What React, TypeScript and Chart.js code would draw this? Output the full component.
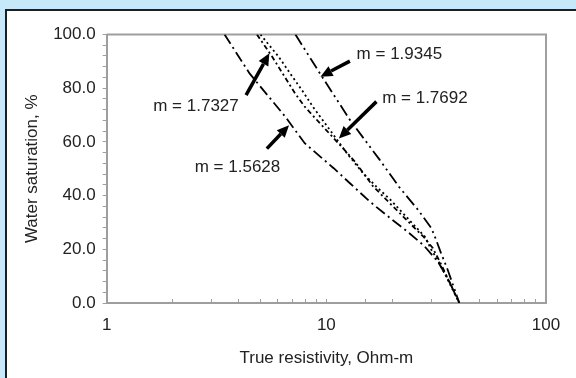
import { useEffect, useRef } from "react";
import { Chart, registerables } from "chart.js";
Chart.register(...registerables);

const FONT = "'Liberation Sans', Arial, sans-serif";
const TEXT = "#222222";
const AXIS = "#9e9e9e";

const seriesLabels = ["m = 1.5628", "m = 1.7327", "m = 1.7692", "m = 1.9345"];

// Resistivity (Ohm-m) and water saturation (%)
const rtA = [3.44, 4.47, 6.5, 7.97, 10.8, 12.8, 15.8, 20.0, 22.9, 27.8, 32.2, 35.7, 40.3];
const swA = [100, 85.5, 69.4, 59.5, 50.2, 44.6, 37.7, 30.9, 27.2, 21.4, 15.4, 9.2, 0];

const rtB = [4.83, 5.67, 7.2, 7.97, 12.0, 13.5, 16.3, 19.0, 23.8, 27.8, 30.5, 33.5, 36.0, 40.3];
const swB = [100, 91.7, 78.1, 73.1, 57.3, 52.6, 43.5, 38.0, 30.0, 24.5, 20.5, 14.0, 8.5, 0];

const rtC = [5.01, 6.07, 6.84, 7.83, 8.68, 12.4, 14.7, 16.9, 19.6, 25.0, 28.1, 30.1, 32.2, 35.5, 40.3];
const swC = [100, 91.7, 85.5, 78.7, 73.1, 55.8, 48.3, 43.3, 38.4, 29.1, 24.7, 19.7, 16.0, 9.0, 0];

const rtD = [7.23, 9.45, 12.8, 17.5, 21.4, 26.2, 30.1, 31.6, 33.3, 35.7, 40.3];
const swD = [100, 84.9, 68.2, 53.3, 43.3, 34.6, 27.8, 23.5, 18.5, 12.3, 0];

const dashes = [
  [11, 4, 2, 4],
  [5, 3, 2, 3],
  [2, 3],
  [12, 4, 2, 4, 2, 4],
];

const xTickLabels = ["1", "10", "100"];

// Annotation labels (data coordinates: resistivity, saturation)
const labelRt = [3.94, 2.55, 28.1, 21.5];
const labelSw = [50.4, 73.1, 76.1, 92.6];
// Arrow tails and heads (data coordinates)
const arrowTailRt = [5.36, 4.31, 16.9, 12.8];
const arrowTailSw = [57.5, 77.4, 75.0, 90.1];
const arrowHeadRt = [6.76, 5.5, 11.4, 9.4];
const arrowHeadSw = [66.2, 93.0, 61.3, 84.3];

function drawArrow(ctx: CanvasRenderingContext2D, x1: number, y1: number, x2: number, y2: number) {
  const ang = Math.atan2(y2 - y1, x2 - x1);
  const hl = 12;
  const hw = 5.5;
  const bx = x2 - hl * Math.cos(ang);
  const by = y2 - hl * Math.sin(ang);
  ctx.lineWidth = 3.5;
  ctx.lineCap = "butt";
  ctx.beginPath();
  ctx.moveTo(x1, y1);
  ctx.lineTo(bx, by);
  ctx.stroke();
  ctx.beginPath();
  ctx.moveTo(x2, y2);
  ctx.lineTo(bx + hw * Math.sin(ang), by - hw * Math.cos(ang));
  ctx.lineTo(bx - hw * Math.sin(ang), by + hw * Math.cos(ang));
  ctx.closePath();
  ctx.fill();
}

const framePlugin = {
  id: "frame",
  beforeDatasetsDraw(chart: any) {
    const { ctx, chartArea } = chart;
    ctx.save();
    ctx.strokeStyle = AXIS;
    ctx.lineWidth = 2;
    ctx.beginPath();
    ctx.moveTo(chartArea.left, chartArea.top);
    ctx.lineTo(chartArea.right, chartArea.top);
    ctx.lineTo(chartArea.right, chartArea.bottom);
    ctx.stroke();
    ctx.restore();
  },
};

const annotationPlugin = {
  id: "annot",
  afterDatasetsDraw(chart: any) {
    const { ctx } = chart;
    const xs = chart.scales.x;
    const ys = chart.scales.y;
    ctx.save();
    ctx.fillStyle = "#000";
    ctx.strokeStyle = "#000";
    for (let i = 0; i < seriesLabels.length; i++) {
      drawArrow(
        ctx,
        xs.getPixelForValue(arrowTailRt[i]),
        ys.getPixelForValue(arrowTailSw[i]),
        xs.getPixelForValue(arrowHeadRt[i]),
        ys.getPixelForValue(arrowHeadSw[i])
      );
    }
    ctx.fillStyle = TEXT;
    ctx.font = `17px ${FONT}`;
    ctx.textAlign = "center";
    ctx.textBaseline = "middle";
    for (let i = 0; i < seriesLabels.length; i++) {
      ctx.fillText(seriesLabels[i], xs.getPixelForValue(labelRt[i]), ys.getPixelForValue(labelSw[i]));
    }
    ctx.restore();
  },
};

export default function App() {
  const ref = useRef<HTMLCanvasElement>(null);

  useEffect(() => {
    if (!ref.current) return;
    const sets = [
      [rtA, swA],
      [rtB, swB],
      [rtC, swC],
      [rtD, swD],
    ];
    const chart = new Chart(ref.current, {
      type: "line",
      data: {
        datasets: sets.map(([xs, ys], i) => ({
          label: seriesLabels[i],
          data: xs.map((x, j) => ({ x, y: ys[j] })),
          borderColor: "#000",
          borderWidth: 1.8,
          borderDash: dashes[i],
          pointRadius: 0,
          tension: 0,
          fill: false,
        })),
      },
      options: {
        animation: false,
        responsive: false,
        parsing: true,
        layout: { padding: { left: 0, top: 34.5, right: 18.3, bottom: 0 } },
        plugins: { legend: { display: false }, tooltip: { enabled: false } },
        scales: {
          x: {
            type: "logarithmic",
            min: 1,
            max: 100,
            afterFit: (s: any) => {
              s.height = 75;
            },
            border: { color: AXIS, width: 2 },
            grid: { drawOnChartArea: false, drawTicks: true, tickLength: -4, color: AXIS, lineWidth: 1 },
            ticks: {
              autoSkip: false,
              maxRotation: 0,
              padding: 15.8,
              color: TEXT,
              font: { family: FONT, size: 17 },
              callback: (v: any) => (xTickLabels.includes(String(v)) ? String(v) : ""),
            },
            title: {
              display: true,
              text: "True resistivity, Ohm-m",
              color: TEXT,
              font: { family: FONT, size: 17 },
              padding: { top: 0, bottom: 9.8 },
            },
          },
          y: {
            type: "linear",
            min: 0,
            max: 100,
            afterFit: (s: any) => {
              s.width = 106.7;
            },
            border: { color: AXIS, width: 2 },
            grid: { drawOnChartArea: false, drawTicks: true, tickLength: 4, color: AXIS, lineWidth: 1 },
            ticks: {
              stepSize: 4,
              autoSkip: false,
              padding: 7,
              color: TEXT,
              font: { family: FONT, size: 17 },
              callback: (v: any) => (Math.round(v) % 20 === 0 ? Number(v).toFixed(1) : ""),
            },
            title: {
              display: true,
              text: "Water saturation, %",
              color: TEXT,
              font: { family: FONT, size: 17 },
              padding: { top: 21.8, bottom: 0 },
            },
          },
        },
      },
      plugins: [framePlugin, annotationPlugin],
    });
    return () => chart.destroy();
  }, []);

  return (
    <div
      style={{
        position: "fixed",
        left: 0,
        top: 0,
        width: 576,
        height: 378,
        background: "#c6e8f8",
        overflow: "hidden",
      }}
    >
      <div
        style={{
          position: "absolute",
          left: 5,
          top: 9,
          width: 620,
          height: 420,
          background: "#ffffff",
          border: "2px solid #1e1e1e",
          boxSizing: "border-box",
        }}
      />
      <canvas
        ref={ref}
        width={576}
        height={378}
        style={{ position: "absolute", left: 0, top: 0, width: 576, height: 378 }}
      />
    </div>
  );
}
